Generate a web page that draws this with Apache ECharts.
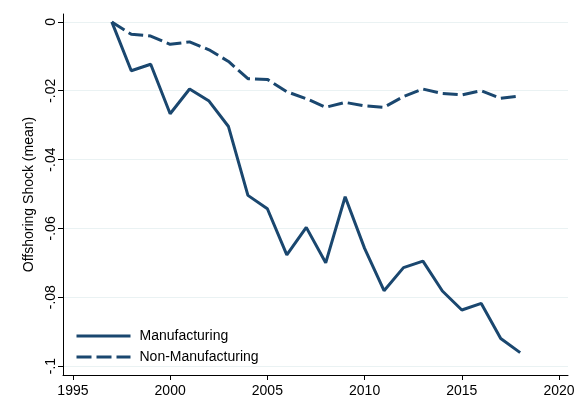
<!DOCTYPE html>
<html><head><meta charset="utf-8">
<script src="https://cdn.jsdelivr.net/npm/echarts@6/dist/echarts.min.js"></script>
<style>html,body{margin:0;padding:0;background:#fff}#c{width:578px;height:417px}</style>
</head><body><div id="c"></div>
<script>
const years = [1997,1998,1999,2000,2001,2002,2003,2004,2005,2006,2007,2008,2009,2010,2011,2012,2013,2014,2015,2016,2017,2018];
const manufacturing = [0,-0.0142,-0.0123,-0.0267,-0.0195,-0.0230,-0.0304,-0.0504,-0.0543,-0.0677,-0.0597,-0.0700,-0.0508,-0.0658,-0.0781,-0.0714,-0.0695,-0.0782,-0.0837,-0.0818,-0.0920,-0.0961];
const nonManufacturing = [0,-0.0036,-0.0041,-0.0065,-0.0058,-0.0081,-0.0115,-0.0165,-0.0167,-0.0203,-0.0223,-0.0248,-0.0234,-0.0244,-0.0248,-0.0217,-0.0195,-0.0208,-0.0212,-0.0200,-0.0222,-0.0215];
const xTicks = [1995,2000,2005,2010,2015,2020];
const yTicks = [0,-0.02,-0.04,-0.06,-0.08,-0.1];

const color = '#1a476f';
const font = 'Liberation Sans, Arial, sans-serif';
const fmtY = v => { if (Math.abs(v) < 1e-9) return '0'; let s = (+v.toFixed(2)).toString(); return s.replace('0.', '.'); };

const chart = echarts.init(document.getElementById('c'));
chart.setOption({
  animation: false,
  grid: {left: 63, right: 10, top: 14, bottom: 42},
  legend: {
    left: 75, top: 329, orient: 'vertical', padding: 0, itemGap: 7, itemWidth: 54, itemHeight: 14,
    itemStyle: {opacity: 0},
    lineStyle: {width: 3},
    textStyle: {fontFamily: font, fontSize: 14, color: '#000', padding: [0,0,0,4]},
    data: ['Manufacturing', 'Non-Manufacturing']
  },
  xAxis: {
    type: 'value', min: 1994.49, max: 2020.46,
    axisLine: {show: true, onZero: false, lineStyle: {color: '#000', width: 1}},
    axisTick: {show: true, length: 5, customValues: xTicks, lineStyle: {color: '#000'}},
    axisLabel: {customValues: xTicks, formatter: v => String(v), fontFamily: font, fontSize: 14, color: '#000', margin: 9},
    splitLine: {show: false}
  },
  yAxis: {
    type: 'value', min: -0.1026, max: 0.0023,
    name: 'Offshoring Shock (mean)', nameLocation: 'middle', nameGap: 26,
    nameTextStyle: {fontFamily: font, fontSize: 14, color: '#000'},
    axisLine: {show: true, onZero: false, lineStyle: {color: '#000', width: 1}},
    axisTick: {show: true, length: 5, customValues: yTicks, lineStyle: {color: '#000'}},
    axisLabel: {customValues: yTicks, rotate: 90, formatter: fmtY, fontFamily: font, fontSize: 14, color: '#000', margin: 5, align: 'center'},
    splitLine: {show: true, lineStyle: {color: '#eaf2f3', width: 1}}
  },
  series: [
    {name: 'Manufacturing', type: 'line', symbol: 'none', color: color,
     data: years.map((y,i) => [y, manufacturing[i]]),
     lineStyle: {color: color, width: 3, type: 'solid'}},
    {name: 'Non-Manufacturing', type: 'line', symbol: 'none', color: color,
     data: years.map((y,i) => [y, nonManufacturing[i]]),
     lineStyle: {color: color, width: 3, type: [15,5]}}
  ]
});
</script></body></html>
